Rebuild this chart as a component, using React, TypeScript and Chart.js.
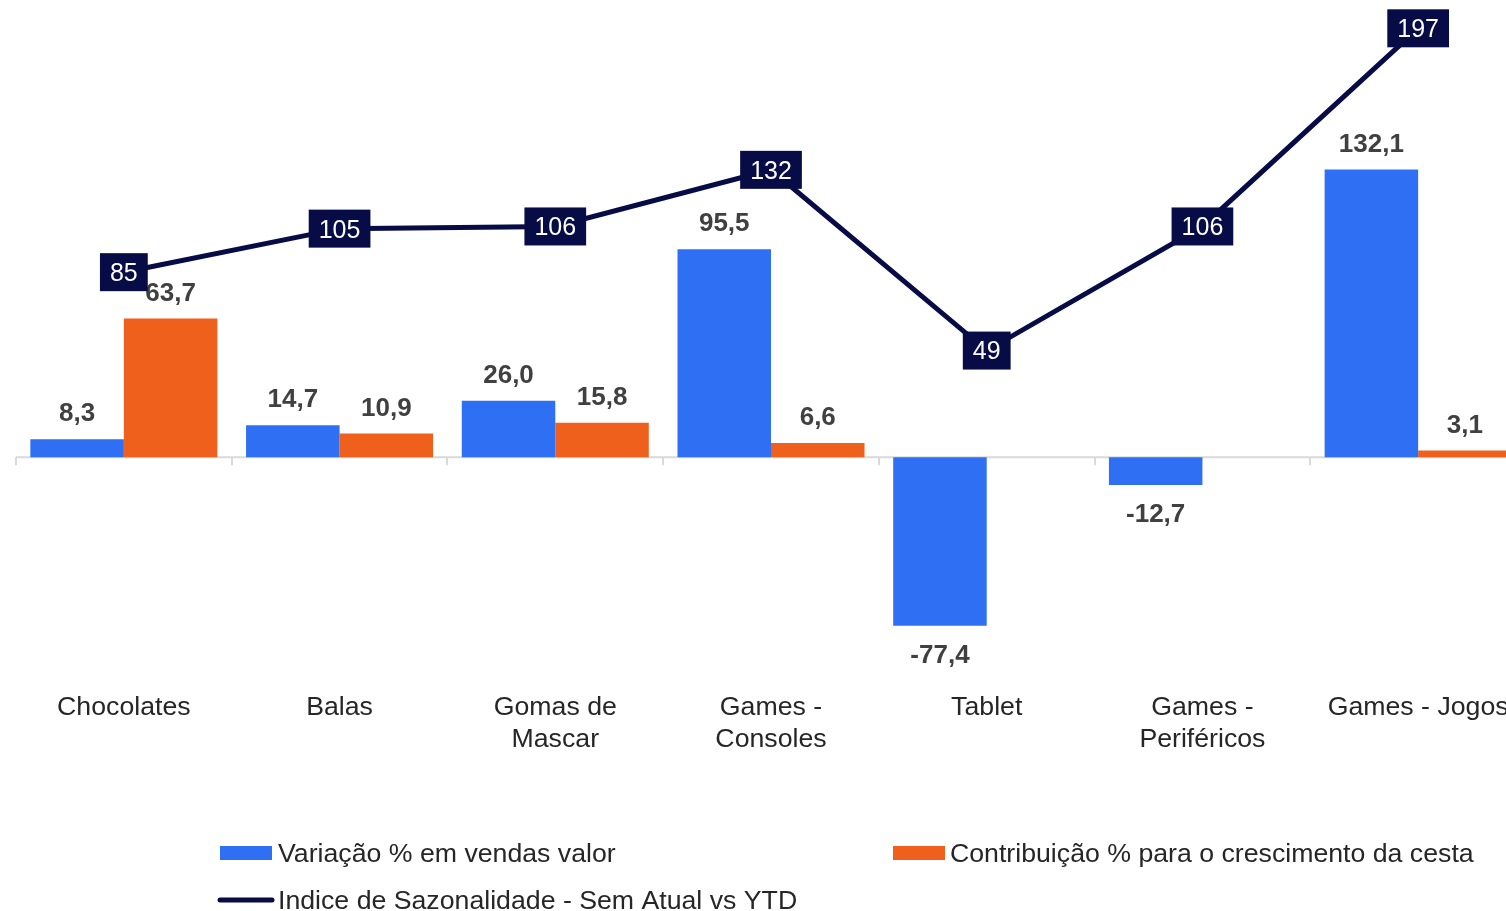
import React, { useEffect, useRef } from "react";
import { Chart, registerables } from "chart.js";

Chart.register(...registerables);

const categories: (string | string[])[] = [
  "Chocolates",
  "Balas",
  ["Gomas de", "Mascar"],
  ["Games -", "Consoles"],
  "Tablet",
  ["Games -", "Periféricos"],
  "Games - Jogos",
];
const variacaoVendas: (number | null)[] = [8.3, 14.7, 26.0, 95.5, -77.4, -12.7, 132.1];
const contribuicao: (number | null)[] = [63.7, 10.9, 15.8, 6.6, null, null, 3.1];
const indiceSazonalidade: number[] = [85, 105, 106, 132, 49, 106, 197];

const seriesNames = [
  "Variação % em vendas valor",
  "Contribuição % para o crescimento da cesta",
  "Indice de Sazonalidade - Sem Atual vs YTD",
];

const BLUE = "#2E6FF3";
const ORANGE = "#EF601C";
const NAVY = "#070C46";
const FONT = "'Liberation Sans', Arial, sans-serif";

const fmt = (v: number) => v.toFixed(1).replace(".", ",");

const overlayPlugin = {
  id: "overlay",
  beforeDatasetsDraw(chart: any) {
    const { ctx, chartArea } = chart;
    const y0 = chart.scales.y.getPixelForValue(0);
    const n = categories.length;
    const w = (chartArea.right - chartArea.left) / n;
    ctx.save();
    ctx.strokeStyle = "#D9D9D9";
    ctx.lineWidth = 2;
    ctx.beginPath();
    ctx.moveTo(chartArea.left, y0);
    ctx.lineTo(chartArea.right, y0);
    for (let i = 0; i <= n; i++) {
      const x = Math.round(chartArea.left + i * w);
      ctx.moveTo(x, y0);
      ctx.lineTo(x, y0 + 8);
    }
    ctx.stroke();
    ctx.restore();
  },
  afterDatasetsDraw(chart: any) {
    const { ctx } = chart;
    ctx.save();
    // bar labels
    ctx.font = `bold 26px ${FONT}`;
    ctx.fillStyle = "#404040";
    ctx.textAlign = "center";
    ctx.textBaseline = "middle";
    [0, 1].forEach((di) => {
      const ds = chart.data.datasets[di];
      const meta = chart.getDatasetMeta(di);
      meta.data.forEach((el: any, i: number) => {
        const v = ds.data[i];
        if (v === null || v === undefined) return;
        const y = v >= 0 ? el.y - 25 : el.y + 30;
        ctx.fillText(fmt(v), el.x, y);
      });
    });
    // line labels
    const lds = chart.data.datasets[2];
    const lmeta = chart.getDatasetMeta(2);
    ctx.font = `25px ${FONT}`;
    lmeta.data.forEach((el: any, i: number) => {
      const txt = String(lds.data[i]);
      const tw = ctx.measureText(txt).width;
      const bw = tw + 20;
      const bh = 38;
      ctx.fillStyle = NAVY;
      ctx.fillRect(el.x - bw / 2, el.y - bh / 2, bw, bh);
      ctx.fillStyle = "#FFFFFF";
      ctx.fillText(txt, el.x, el.y + 2);
    });
    ctx.restore();
  },
  afterDraw(chart: any) {
    const { ctx } = chart;
    ctx.save();
    ctx.font = `26.7px ${FONT}`;
    ctx.textAlign = "left";
    ctx.textBaseline = "middle";
    ctx.fillStyle = BLUE;
    ctx.fillRect(220, 846, 52, 14);
    ctx.fillStyle = ORANGE;
    ctx.fillRect(893, 846, 52, 14);
    ctx.strokeStyle = NAVY;
    ctx.lineWidth = 5;
    ctx.lineCap = "round";
    ctx.beginPath();
    ctx.moveTo(220, 900);
    ctx.lineTo(272, 900);
    ctx.stroke();
    ctx.fillStyle = "#262626";
    ctx.fillText(seriesNames[0], 278, 855);
    ctx.fillText(seriesNames[1], 950, 855);
    ctx.fillText(seriesNames[2], 278, 902);
    ctx.restore();
  },
};

export default function App() {
  const ref = useRef<HTMLCanvasElement>(null);
  useEffect(() => {
    const canvas = ref.current;
    if (!canvas) return;
    const chart = new Chart(canvas, {
      type: "bar",
      data: {
        labels: categories as any,
        datasets: [
          {
            type: "bar",
            label: seriesNames[0],
            data: variacaoVendas,
            backgroundColor: BLUE,
            categoryPercentage: 0.867,
            barPercentage: 1,
            order: 2,
          },
          {
            type: "bar",
            label: seriesNames[1],
            data: contribuicao,
            backgroundColor: ORANGE,
            categoryPercentage: 0.867,
            barPercentage: 1,
            order: 2,
          },
          {
            type: "line",
            label: seriesNames[2],
            data: indiceSazonalidade,
            borderColor: NAVY,
            backgroundColor: NAVY,
            borderWidth: 5,
            pointRadius: 0,
            tension: 0,
            order: 1,
          } as any,
        ],
      },
      options: {
        responsive: false,
        animation: false,
        devicePixelRatio: 1,
        layout: { padding: { left: 16, right: 0, top: 0, bottom: 0 } },
        plugins: {
          legend: { display: false },
          tooltip: { enabled: false },
        },
        scales: {
          x: {
            grid: { display: false, drawTicks: false },
            border: { display: false },
            ticks: {
              padding: 17,
              color: "#262626",
              font: { family: FONT, size: 26.7 },
              maxRotation: 0,
              autoSkip: false,
            },
            afterFit: (scale: any) => {
              scale.height = 911 - 675;
            },
          },
          y: {
            display: false,
            min: -100,
            max: 210,
          },
        },
      },
      plugins: [overlayPlugin],
    });
    return () => chart.destroy();
  }, []);
  return (
    <div
      style={{
        position: "fixed",
        left: 0,
        top: 0,
        width: 1506,
        height: 911,
        overflow: "hidden",
        background: "#fff",
      }}
    >
      <canvas ref={ref} width={1526} height={911} style={{ display: "block" }} />
    </div>
  );
}
